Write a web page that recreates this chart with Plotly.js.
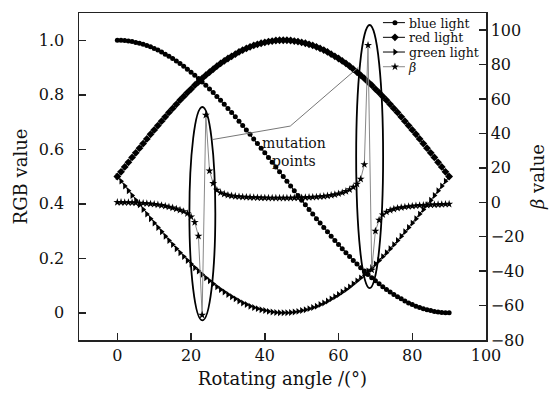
<!DOCTYPE html>
<html>
<head>
<meta charset="utf-8">
<script src="https://cdn.plot.ly/plotly-3.0.1.min.js"></script>
<style>html,body{margin:0;padding:0;background:#fff;}</style>
</head>
<body>
<div id="chart" style="width:557px;height:396px;"></div>
<script>
// Rotating angle (degrees)
const angle = [0,1,2,3,4,5,6,7,8,9,10,11,12,13,14,15,16,17,18,19,20,21,22,23,24,25,26,27,28,29,30,31,32,33,34,35,36,37,38,39,40,41,42,43,44,45,46,47,48,49,50,51,52,53,54,55,56,57,58,59,60,61,62,63,64,65,66,67,68,69,70,71,72,73,74,75,76,77,78,79,80,81,82,83,84,85,86,87,88,89,90];

const blueLight = [1.000,1.000,0.999,0.997,0.995,0.992,0.989,0.985,0.981,0.976,0.970,0.964,0.957,0.949,0.941,0.933,0.924,0.915,0.905,0.894,0.883,0.872,0.860,0.847,0.835,0.821,0.808,0.794,0.780,0.765,0.750,0.735,0.719,0.703,0.687,0.671,0.655,0.638,0.621,0.604,0.587,0.570,0.552,0.535,0.517,0.500,0.483,0.465,0.448,0.430,0.413,0.396,0.379,0.362,0.345,0.329,0.313,0.297,0.281,0.265,0.250,0.235,0.220,0.206,0.192,0.179,0.165,0.153,0.140,0.128,0.117,0.106,0.095,0.085,0.076,0.067,0.059,0.051,0.043,0.036,0.030,0.024,0.019,0.015,0.011,0.008,0.005,0.003,0.001,0.000,0.000];

const redLight = [0.500,0.517,0.535,0.552,0.570,0.587,0.604,0.621,0.638,0.655,0.671,0.687,0.703,0.719,0.735,0.750,0.765,0.780,0.794,0.808,0.821,0.835,0.847,0.860,0.872,0.883,0.894,0.905,0.915,0.924,0.933,0.941,0.949,0.957,0.964,0.970,0.976,0.981,0.985,0.989,0.992,0.995,0.997,0.999,1.000,1.000,1.000,0.999,0.997,0.995,0.992,0.989,0.985,0.981,0.976,0.970,0.964,0.957,0.949,0.941,0.933,0.924,0.915,0.905,0.894,0.883,0.872,0.860,0.847,0.835,0.821,0.808,0.794,0.780,0.765,0.750,0.735,0.719,0.703,0.687,0.671,0.655,0.638,0.621,0.604,0.587,0.570,0.552,0.535,0.517,0.500];

const greenLight = [0.500,0.483,0.465,0.448,0.430,0.413,0.396,0.379,0.362,0.345,0.329,0.313,0.297,0.281,0.265,0.250,0.235,0.220,0.206,0.192,0.179,0.165,0.153,0.140,0.128,0.117,0.106,0.095,0.085,0.076,0.067,0.059,0.051,0.043,0.036,0.030,0.024,0.019,0.015,0.011,0.008,0.005,0.003,0.001,0.000,0.000,0.000,0.001,0.003,0.005,0.008,0.011,0.015,0.019,0.024,0.030,0.036,0.043,0.051,0.059,0.067,0.076,0.085,0.095,0.106,0.117,0.128,0.140,0.153,0.165,0.179,0.192,0.206,0.220,0.235,0.250,0.265,0.281,0.297,0.313,0.329,0.345,0.362,0.379,0.396,0.413,0.430,0.448,0.465,0.483,0.500];

const betaValue = [0.0,0.0,-0.1,-0.1,-0.2,-0.3,-0.4,-0.5,-0.7,-0.9,-1.1,-1.4,-1.8,-2.2,-2.7,-3.2,-3.8,-4.5,-5.3,-6.5,-8.4,-11.6,-19.6,-65.5,50.7,18.3,11.0,7.1,5.6,4.8,4.2,3.8,3.5,3.3,3.1,3.0,2.9,2.8,2.7,2.6,2.6,2.5,2.5,2.5,2.5,2.5,2.5,2.5,2.6,2.6,2.7,2.8,2.9,3.0,3.1,3.3,3.5,3.8,4.1,4.5,5.0,5.6,6.4,7.4,8.8,10.6,13.5,22.0,91.3,-39.3,-16.7,-10.3,-7.2,-5.6,-4.6,-3.9,-3.4,-3.0,-2.7,-2.4,-2.2,-2.0,-1.8,-1.7,-1.6,-1.5,-1.4,-1.3,-1.2,-1.1,-1.0];

const seriesNames = ['blue light', 'red light', 'green light', '<i>β</i>'];
const xTicks = [0, 20, 40, 60, 80, 100];
const yTicks = [0, 0.2, 0.4, 0.6, 0.8, 1.0];
const yTickText = ['0', '0.2', '0.4', '0.6', '0.8', '1.0'];
const y2Ticks = [-80, -60, -40, -20, 0, 20, 40, 60, 80, 100];

const FONT = 'DejaVu Serif, Liberation Serif, serif';

const traces = [
  {x: angle, y: blueLight, name: seriesNames[0], type: 'scatter', mode: 'lines+markers',
   line: {color: '#000', width: 1}, marker: {symbol: 'circle', size: 5, color: '#000'}},
  {x: angle, y: redLight, name: seriesNames[1], type: 'scatter', mode: 'lines+markers',
   line: {color: '#000', width: 1}, marker: {symbol: 'diamond', size: 6, color: '#000'}},
  {x: angle, y: greenLight, name: seriesNames[2], type: 'scatter', mode: 'lines+markers',
   line: {color: '#000', width: 1}, marker: {symbol: 'triangle-right', size: 6, color: '#000'}},
  {x: angle, y: betaValue, name: seriesNames[3], type: 'scatter', mode: 'lines+markers', yaxis: 'y2',
   line: {color: '#888', width: 1}, marker: {symbol: 'star', size: 6, color: '#000'}}
];

const axisCommon = {
  showline: true, linecolor: '#222', linewidth: 1.5,
  ticks: 'inside', ticklen: 7, tickwidth: 1.5, tickcolor: '#222',
  showgrid: false, zeroline: false,
  tickfont: {family: FONT, size: 16, color: '#111'}
};

const layout = {
  width: 557, height: 396,
  margin: {l: 79, r: 71, t: 13, b: 56},
  paper_bgcolor: '#fff', plot_bgcolor: '#fff',
  font: {family: FONT, color: '#111'},
  showlegend: true,
  legend: {x: 0.995, xanchor: 'right', y: 1, yanchor: 'top', bgcolor: 'rgba(0,0,0,0)', borderwidth: 0,
           font: {family: FONT, size: 12.5, color: '#111'}, itemwidth: 30, tracegroupgap: 0},
  xaxis: Object.assign({}, axisCommon, {
    range: [-10.4, 100], tickvals: xTicks, mirror: true,
    title: {text: 'Rotating angle /(°)', font: {family: FONT, size: 18, color: '#111'}, standoff: 8}
  }),
  yaxis: Object.assign({}, axisCommon, {
    range: [-0.1, 1.1], tickvals: yTicks, ticktext: yTickText, ticklabelstandoff: 10,
    title: {text: 'RGB value', font: {family: FONT, size: 18, color: '#111'}, standoff: 6}
  }),
  yaxis2: Object.assign({}, axisCommon, {
    range: [-80, 110], tickvals: y2Ticks, overlaying: 'y', side: 'right',
    title: {text: '<i>β</i> value', font: {family: FONT, size: 18, color: '#111'}, standoff: 8}
  }),
  shapes: [
    {type: 'circle', xref: 'x', yref: 'y', x0: 19.54, x1: 26.58, y0: -0.028, y1: 0.755,
     line: {color: '#000', width: 1.8}},
    {type: 'circle', xref: 'x', yref: 'y', x0: 64.78, x1: 72.09, y0: 0.090, y1: 1.056,
     line: {color: '#000', width: 1.8}},
    {type: 'line', xref: 'x', yref: 'y', x0: 25.96, y0: 0.636, x1: 46.9, y1: 0.685,
     line: {color: '#777', width: 1}},
    {type: 'line', xref: 'x', yref: 'y', x0: 46.9, y0: 0.685, x1: 65.32, y1: 0.900,
     line: {color: '#777', width: 1}}
  ],
  annotations: [
    {xref: 'x', yref: 'y', x: 48.0, y: 0.589, text: 'mutation<br>points', showarrow: false,
     xanchor: 'center', yanchor: 'middle', align: 'center',
     font: {family: FONT, size: 14, color: '#111'}}
  ]
};

Plotly.newPlot('chart', traces, layout, {staticPlot: true, displayModeBar: false}).then(function () {
  // tighten the legend rows and shorten the legend samples to the reference's look
  const items = document.querySelectorAll('.legend .traces');
  if (!items.length) return;
  const re = /translate\(([-\d.]+)[ ,]+([-\d.]+)\)/;
  const first = (items[0].getAttribute('transform') || '').match(re);
  const y0 = first ? parseFloat(first[2]) - 5 : 0;
  items.forEach(function (el, i) {
    const m = (el.getAttribute('transform') || '').match(re);
    if (m) el.setAttribute('transform', 'translate(' + m[1] + ',' + (y0 + i * 14.7) + ')');
    el.querySelectorAll('.legendlines path').forEach(function (p) { p.setAttribute('d', 'M14,0h22'); });
    el.querySelectorAll('.legendpoints path').forEach(function (p) {
      const t = p.getAttribute('transform') || '';
      const mm = t.match(re);
      if (mm) p.setAttribute('transform', 'translate(26,' + mm[2] + ')');
    });
  });
});
</script>
</body>
</html>
